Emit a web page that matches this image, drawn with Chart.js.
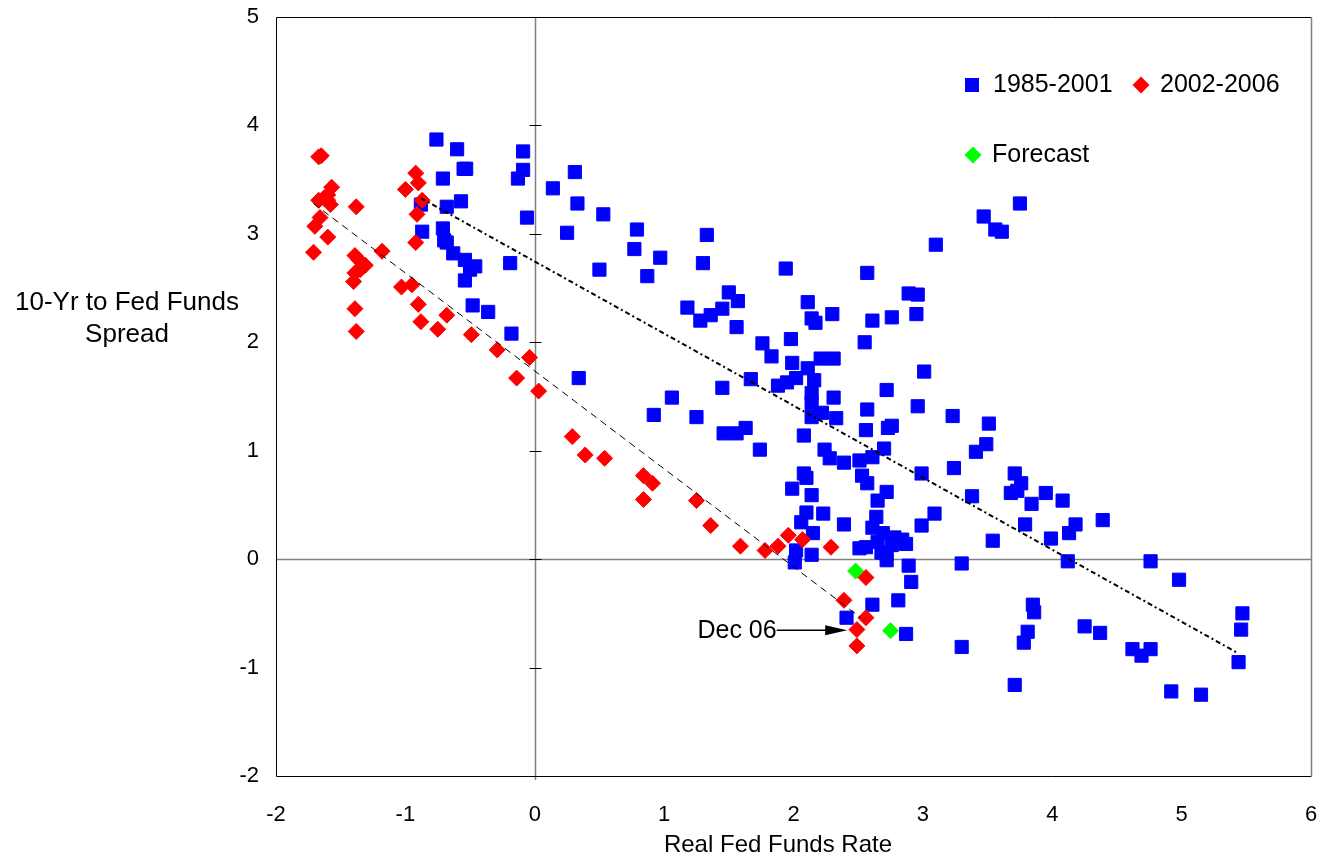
<!DOCTYPE html>
<html>
<head>
<meta charset="utf-8">
<script src="https://cdn.jsdelivr.net/npm/chart.js@4.4.1/dist/chart.umd.min.js"></script>
<style>
  html, body { margin: 0; padding: 0; background: #fff; }
  #wrap { width: 1322px; height: 859px; }
</style>
</head>
<body>
<div id="wrap"><canvas id="spreadChart" width="1322" height="859"></canvas></div>
<script>
// real fed funds rate (x) vs 10-yr minus fed funds spread (y)
var series1985 = [
  [-0.76,3.87],[-0.60,3.78],[-0.55,3.60],[-0.53,3.60],[-0.71,3.51],[-0.88,3.27],[-0.68,3.25],[-0.57,3.30],
  [-0.87,3.02],[-0.71,3.05],[-0.70,2.94],[-0.68,2.92],[-0.63,2.82],[-0.54,2.76],[-0.46,2.70],[-0.50,2.67],
  [-0.54,2.57],[-0.48,2.34],[-0.36,2.28],[-0.18,2.08],[-0.09,3.76],[-0.09,3.59],[-0.13,3.51],[-0.06,3.15],
  [0.14,3.42],[0.25,3.01],[-0.19,2.73],[0.31,3.57],[0.33,3.28],[0.53,3.18],[0.79,3.04],[0.77,2.86],
  [0.97,2.78],[1.33,2.99],[1.30,2.73],[0.50,2.67],[0.87,2.61],[1.94,2.68],[1.50,2.46],[1.57,2.38],
  [1.18,2.32],[1.28,2.20],[1.36,2.25],[1.45,2.31],[1.56,2.14],[2.11,2.37],[2.14,2.22],[2.17,2.18],
  [2.30,2.26],[1.76,1.99],[1.98,2.03],[1.83,1.87],[1.99,1.81],[2.11,1.76],[2.21,1.85],[2.31,1.85],
  [1.67,1.66],[1.45,1.58],[1.06,1.49],[1.88,1.60],[1.95,1.63],[2.02,1.67],[2.16,1.65],[2.14,1.53],
  [2.14,1.44],[2.14,1.31],[2.22,1.35],[2.33,1.30],[2.31,1.49],[0.34,1.67],[3.75,3.28],[3.47,3.16],
  [3.56,3.04],[3.61,3.02],[3.10,2.90],[2.57,2.64],[2.89,2.45],[2.96,2.44],[2.61,2.20],[2.76,2.23],
  [2.95,2.26],[2.55,2.00],[3.01,1.73],[2.72,1.56],[2.96,1.41],[2.57,1.38],[3.23,1.32],[3.51,1.25],
  [3.49,1.06],[3.41,0.99],[2.56,1.19],[2.73,1.21],[2.76,1.23],[2.08,1.14],[2.70,1.02],[2.24,1.01],
  [2.28,0.93],[2.39,0.89],[2.51,0.91],[2.61,0.94],[2.99,0.79],[3.24,0.84],[2.53,0.77],[2.57,0.70],
  [2.72,0.62],[2.08,0.79],[2.10,0.75],[1.99,0.65],[2.14,0.59],[2.65,0.54],[2.10,0.43],[2.23,0.42],
  [2.64,0.39],[2.39,0.32],[2.06,0.34],[2.15,0.24],[3.09,0.42],[2.99,0.31],[2.61,0.29],[2.69,0.24],
  [2.78,0.20],[2.84,0.18],[2.51,0.10],[2.65,0.16],[2.68,0.06],[2.72,0.05],[2.02,0.08],[2.14,0.04],
  [3.30,-0.04],[2.01,-0.03],[2.56,0.11],[2.76,0.13],[2.87,0.14],[2.72,-0.01],[2.89,-0.06],[2.91,-0.21],
  [2.61,-0.42],[2.81,-0.38],[2.41,-0.54],[2.87,-0.69],[3.30,-0.81],[3.71,0.79],[3.76,0.70],[3.68,0.61],
  [3.73,0.63],[3.38,0.58],[3.84,0.51],[3.95,0.61],[4.08,0.54],[4.39,0.36],[4.18,0.32],[4.13,0.24],
  [3.99,0.19],[3.79,0.32],[3.54,0.17],[4.12,-0.02],[3.85,-0.42],[3.86,-0.49],[3.81,-0.67],[3.78,-0.77],
  [4.25,-0.62],[4.37,-0.68],[4.62,-0.83],[3.71,-1.16],[4.76,-0.02],[4.98,-0.19],[4.76,-0.83],[4.69,-0.89],
  [5.47,-0.50],[5.46,-0.65],[5.44,-0.95],[4.92,-1.22],[5.15,-1.25],[1.46,1.16],[1.56,1.16],[1.63,1.21],
  [1.74,1.01],[0.92,1.33],[1.25,1.31]
];
var series2002 = [
  [-1.67,3.71],[-1.65,3.72],[-1.57,3.43],[-1.60,3.36],[-1.63,3.33],[-1.60,3.31],[-1.67,3.31],[-1.58,3.27],
  [-1.66,3.15],[-1.70,3.07],[-1.60,2.97],[-1.71,2.83],[-1.38,3.25],[-1.39,2.80],[-1.36,2.76],[-1.31,2.71],
  [-1.35,2.67],[-1.39,2.64],[-1.40,2.56],[-1.39,2.31],[-1.38,2.10],[-1.18,2.84],[-0.92,3.56],[-0.90,3.47],
  [-1.00,3.41],[-0.87,3.31],[-0.91,3.18],[-0.92,2.92],[-1.03,2.51],[-0.95,2.53],[-0.90,2.35],[-0.88,2.19],
  [-0.75,2.12],[-0.68,2.25],[-0.49,2.07],[-0.29,1.93],[-0.04,1.86],[-0.14,1.67],[0.03,1.55],[0.29,1.13],
  [0.39,0.96],[0.54,0.93],[0.84,0.77],[0.91,0.70],[0.84,0.55],[1.25,0.54],[1.36,0.31],[1.59,0.12],
  [1.78,0.08],[1.88,0.12],[1.96,0.22],[2.07,0.18],[2.29,0.11],[2.39,-0.38],[2.56,-0.17],[2.56,-0.54],
  [2.49,-0.65],[2.49,-0.80]
];
var forecast = [[2.48,-0.11],[2.75,-0.66]];
var trend1985 = [[-0.88,3.33],[5.44,-0.87]];
var trend2002 = [[-1.71,3.28],[2.52,-0.54]];
var xRange = [-2, 6];
var yRange = [-2, 5];
var legendNames = ['1985-2001', '2002-2006', 'Forecast'];
var arrowNote = { text: 'Dec 06', from: [1.87, -0.655], to: [2.415, -0.655] };
var xTitle = 'Real Fed Funds Rate';
var yTitle = ['10-Yr to Fed Funds', 'Spread'];

var FONT = '"Liberation Sans", Arial, sans-serif';

function toPoints(arr) {
  return arr.map(function (p) { return { x: p[0], y: p[1] }; });
}

function diamond(ctx, x, y, r) {
  ctx.beginPath();
  ctx.moveTo(x - r, y);
  ctx.lineTo(x, y - r);
  ctx.lineTo(x + r, y);
  ctx.lineTo(x, y + r);
  ctx.closePath();
  ctx.fill();
}

// no extra edge padding from tick labels, the layout padding decides
function noEdgePadding(s) {
  s.paddingLeft = 0; s.paddingRight = 0; s.paddingTop = 0; s.paddingBottom = 0;
}

var framePlugin = {
  id: 'frame',
  beforeDatasetsDraw: function (chart) {
    var ctx = chart.ctx, a = chart.chartArea;
    var xs = chart.scales.x, ys = chart.scales.y;
    var x0 = Math.round(xs.getPixelForValue(0)) + 0.5;
    var y0 = Math.round(ys.getPixelForValue(0)) + 0.5;
    ctx.save();
    // zero lines
    ctx.strokeStyle = '#808080';
    ctx.lineWidth = 1.5;
    ctx.beginPath();
    ctx.moveTo(a.left, y0); ctx.lineTo(a.right, y0);
    ctx.moveTo(x0, a.top); ctx.lineTo(x0, a.bottom + 4);
    ctx.stroke();
    // ticks on the x=0 line
    ctx.strokeStyle = '#000';
    ctx.lineWidth = 1;
    ctx.beginPath();
    for (var v = yRange[0]; v <= yRange[1]; v++) {
      var py = Math.round(ys.getPixelForValue(v)) + 0.5;
      ctx.moveTo(x0 - 6, py); ctx.lineTo(x0 + 6, py);
    }
    ctx.stroke();
    // plot border
    var l = Math.round(a.left) + 0.5, t = Math.round(a.top) + 0.5;
    var r = Math.round(a.right) + 0.5, b = Math.round(a.bottom) + 0.5;
    ctx.strokeStyle = '#000';
    ctx.beginPath();
    ctx.moveTo(r, t); ctx.lineTo(l, t); ctx.lineTo(l, b); ctx.lineTo(r, b);
    ctx.stroke();
    ctx.strokeStyle = '#808080';
    ctx.lineWidth = 1.5;
    ctx.beginPath();
    ctx.moveTo(r, t); ctx.lineTo(r, b);
    ctx.stroke();
    ctx.restore();
  },
  afterDatasetsDraw: function (chart) {
    var ctx = chart.ctx, a = chart.chartArea;
    var xs = chart.scales.x, ys = chart.scales.y;
    ctx.save();
    ctx.fillStyle = '#000';
    ctx.textBaseline = 'middle';

    // legend inside the plot
    ctx.font = '25px ' + FONT;
    var lx = a.left + 696, ly = a.top + 68;
    ctx.fillStyle = '#0000ff';
    ctx.fillRect(lx - 7, ly - 7, 14, 14);
    ctx.fillStyle = '#000';
    ctx.textAlign = 'left';
    ctx.fillText(legendNames[0], lx + 21, ly);
    ctx.fillStyle = '#ff0000';
    diamond(ctx, lx + 169, ly, 8.5);
    ctx.fillStyle = '#000';
    ctx.fillText(legendNames[1], lx + 188, ly);
    ctx.fillStyle = '#00ff00';
    diamond(ctx, lx + 1, ly + 70, 8.5);
    ctx.fillStyle = '#000';
    ctx.fillText(legendNames[2], lx + 20, ly + 70);

    // Dec 06 arrow
    var fx = xs.getPixelForValue(arrowNote.from[0]);
    var tx = xs.getPixelForValue(arrowNote.to[0]);
    var ay = ys.getPixelForValue(arrowNote.to[1]);
    ctx.strokeStyle = '#000';
    ctx.lineWidth = 1.5;
    ctx.beginPath();
    ctx.moveTo(fx, ay); ctx.lineTo(tx - 18, ay);
    ctx.stroke();
    ctx.beginPath();
    ctx.moveTo(tx, ay);
    ctx.lineTo(tx - 22, ay - 5);
    ctx.lineTo(tx - 22, ay + 5);
    ctx.closePath();
    ctx.fill();
    ctx.font = '25px ' + FONT;
    ctx.textAlign = 'right';
    ctx.fillText(arrowNote.text, fx, ay + 1);

    // y axis title, horizontal
    ctx.font = '26px ' + FONT;
    ctx.textAlign = 'center';
    var mid = (a.top + a.bottom) / 2;
    ctx.fillText(yTitle[0], a.left - 149, mid - 94);
    ctx.fillText(yTitle[1], a.left - 149, mid - 62);

    // x axis title
    ctx.font = '24px ' + FONT;
    ctx.fillText(xTitle, a.left + 502, a.bottom + 69);
    ctx.restore();
  }
};

var ctx = document.getElementById('spreadChart');
new Chart(ctx, {
  type: 'scatter',
  data: {
    datasets: [
      {
        label: 'trend 1985-2001',
        data: toPoints(trend1985),
        showLine: true,
        borderColor: '#000',
        borderWidth: 2,
        borderDash: [5, 3, 2, 3],
        pointRadius: 0,
        order: 0
      },
      {
        label: 'trend 2002-2006',
        data: toPoints(trend2002),
        showLine: true,
        borderColor: '#000',
        borderWidth: 1,
        borderDash: [7, 5],
        pointRadius: 0,
        order: 0
      },
      {
        label: legendNames[1],
        data: toPoints(series2002),
        pointStyle: 'rectRot',
        pointRadius: 8,
        pointBackgroundColor: '#ff0000',
        pointBorderColor: '#ff0000',
        pointBorderWidth: 1,
        order: 1
      },
      {
        label: legendNames[2],
        data: toPoints(forecast),
        pointStyle: 'rectRot',
        pointRadius: 8,
        pointBackgroundColor: '#00ff00',
        pointBorderColor: '#00ff00',
        pointBorderWidth: 1,
        order: 2
      },
      {
        label: legendNames[0],
        data: toPoints(series1985),
        pointStyle: 'rect',
        pointRadius: 9.3,
        pointBackgroundColor: '#0000ff',
        pointBorderColor: '#0000ff',
        pointBorderWidth: 1,
        order: 3
      }
    ]
  },
  options: {
    responsive: false,
    animation: false,
    events: [],
    layout: { padding: { top: 17, right: 11, left: 0, bottom: 0 } },
    plugins: {
      legend: { display: false },
      tooltip: { enabled: false }
    },
    scales: {
      x: {
        type: 'linear',
        min: xRange[0],
        max: xRange[1],
        grid: { display: false, drawTicks: false },
        border: { display: false },
        ticks: { stepSize: 1, color: '#000', padding: 26, font: { family: FONT, size: 22 } },
        afterFit: function (s) { s.height = 83; noEdgePadding(s); }
      },
      y: {
        type: 'linear',
        min: yRange[0],
        max: yRange[1],
        grid: { display: false, drawTicks: false },
        border: { display: false },
        ticks: { stepSize: 1, color: '#000', padding: 17, font: { family: FONT, size: 22 } },
        afterFit: function (s) { s.width = 276; noEdgePadding(s); }
      }
    }
  },
  plugins: [framePlugin]
});
</script>
</body>
</html>
